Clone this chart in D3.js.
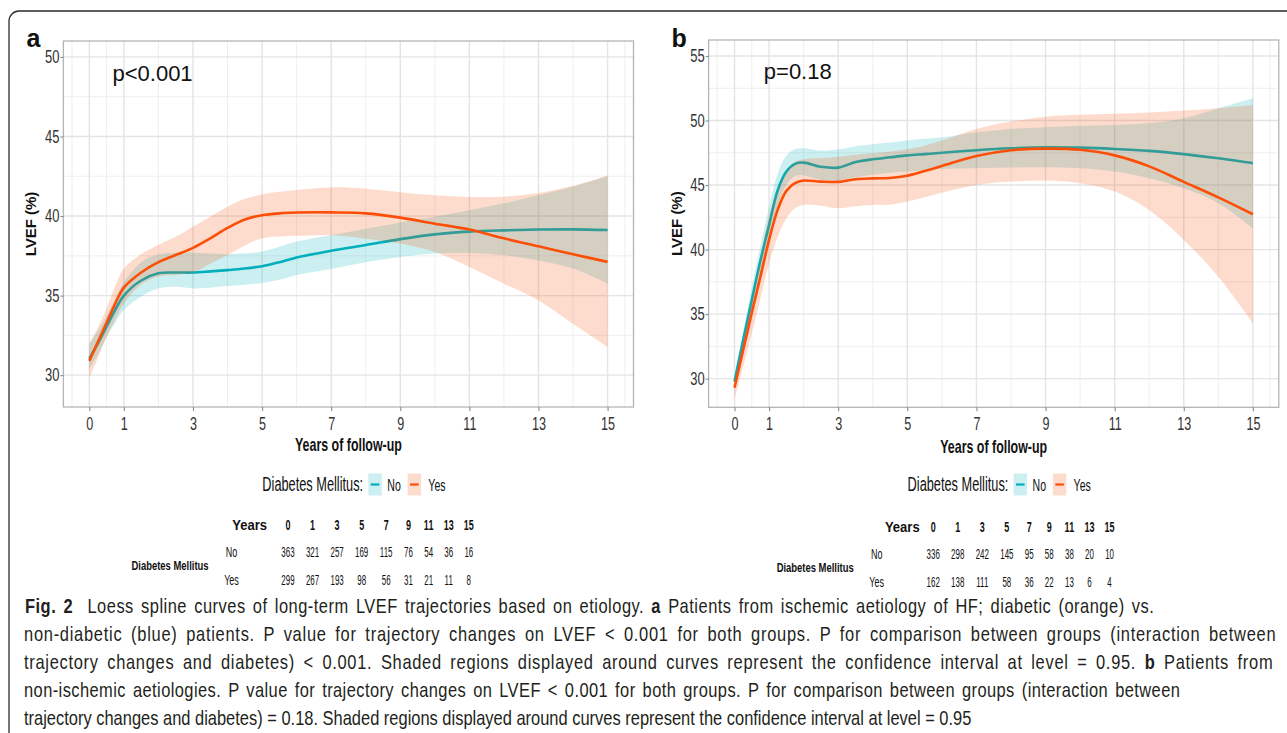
<!DOCTYPE html>
<html>
<head>
<meta charset="utf-8">
<script src="https://cdn.jsdelivr.net/npm/d3@7"></script>
<style>
  html, body { margin: 0; padding: 0; background: #ffffff; }
  svg { display: block; }
</style>
</head>
<body>
<svg id="chart" width="1287" height="733"></svg>
<script>
// ---------------- DATA ----------------
const groups = ["No", "Yes"];
const groupColors = ["#00AFBB", "#FC4E07"];

// Panel a : ischemic aetiology (loess fit and 95% CI)
const yearsA = [0,0.25,0.5,0.75,1,1.5,2,2.5,3,3.5,4,4.5,5,5.5,6,7,8,9,10,11,12,13,14,15];
const aNoFit = [31.05,32.0,33.05,34.1,35.0,35.95,36.4,36.45,36.45,36.52,36.6,36.7,36.85,37.1,37.4,37.82,38.18,38.55,38.85,39.02,39.1,39.15,39.16,39.12];
const aNoLo  = [30.4,31.3,32.4,33.3,34.1,34.95,35.45,35.55,35.45,35.5,35.6,35.68,35.8,36.0,36.3,36.68,37.1,37.43,37.64,37.68,37.53,37.2,36.7,35.75];
const aNoHi  = [31.95,32.8,33.7,34.8,35.85,37.1,37.6,37.7,37.7,37.65,37.62,37.66,37.77,38.07,38.4,38.8,39.2,39.6,39.95,40.36,40.8,41.3,41.85,42.5];
const aYesFit = [30.9,32.1,33.3,34.5,35.5,36.45,37.1,37.55,38.0,38.6,39.25,39.78,40.05,40.17,40.22,40.23,40.17,39.9,39.52,39.15,38.6,38.1,37.6,37.12];
const aYesLo  = [29.8,31.1,32.4,33.5,34.5,35.7,36.2,36.3,36.45,37.0,37.55,38.15,38.6,38.72,38.76,38.79,38.58,38.27,37.74,36.8,35.75,34.7,33.23,31.77];
const aYesHi  = [32.0,33.0,34.2,35.6,36.7,37.6,38.2,38.7,39.33,39.96,40.59,41.08,41.36,41.52,41.64,41.8,41.72,41.5,41.3,41.2,41.22,41.45,41.9,42.55];

// Panel b : non-ischemic aetiologies
const yearsB = [0,0.25,0.5,0.75,1,1.25,1.5,1.75,2,2.5,3,3.5,4,4.5,5,5.5,6,7,8,9,10,11,12,13,14,15];
const bNoFit = [29.77,33.0,36.1,39.15,41.9,44.6,46.05,46.64,46.74,46.42,46.35,46.78,47.0,47.15,47.3,47.4,47.5,47.7,47.85,47.93,47.9,47.8,47.65,47.4,47.08,46.7];
const bNoLo  = [29.4,32.4,35.3,38.1,40.75,43.4,45.0,45.7,45.75,45.4,45.35,45.6,45.8,45.95,46.05,46.15,46.25,46.3,46.36,46.38,46.3,46.05,45.53,44.75,43.6,41.65];
const bNoHi  = [30.15,33.6,37.1,40.3,43.3,45.9,47.3,47.78,47.86,47.67,47.75,48.0,48.17,48.3,48.45,48.58,48.7,49.1,49.35,49.48,49.6,49.66,49.8,50.18,50.96,51.73];
const bYesFit = [29.3,32.2,35.1,37.9,40.75,43.1,44.55,45.15,45.35,45.27,45.25,45.45,45.52,45.55,45.72,46.08,46.48,47.25,47.7,47.82,47.73,47.3,46.45,45.25,44.05,42.74];
const bYesLo  = [28.35,30.9,33.5,36.2,38.94,41.0,42.4,43.2,43.46,43.4,43.2,43.35,43.46,43.48,43.72,44.05,44.4,45.0,45.27,45.35,45.14,44.5,43.07,40.75,37.9,34.3];
const bYesHi  = [29.9,33.0,36.2,39.4,42.56,44.6,46.0,46.8,47.0,47.1,47.2,47.35,47.47,47.6,47.78,48.05,48.45,49.35,49.92,50.3,50.44,50.52,50.62,50.78,50.96,51.2];

// axes
const xTicks = [0,1,3,5,7,9,11,13,15];
const xMinor = [-0.5,0.5,2,4,6,8,10,12,14,15.5];
const yTicksA = [30,35,40,45,50];
const yMinorA = [32.5,37.5,42.5,47.5];
const yTicksB = [30,35,40,45,50,55];
const yMinorB = [32.5,37.5,42.5,47.5,52.5];

// number at risk tables
const tableYears = [0,1,3,5,7,9,11,13,15];
const riskANo  = [363,321,257,169,115,76,54,36,16];
const riskAYes = [299,267,193,98,56,31,21,11,8];
const riskBNo  = [336,298,242,145,95,58,38,20,10];
const riskBYes = [162,138,111,58,36,22,13,6,4];

const panelLetters = ["a", "b"];
const pLabels = ["p<0.001", "p=0.18"];
const xTitle = "Years of follow-up";
const yTitle = "LVEF (%)";
const legendTitle = "Diabetes Mellitus:";
const tableTitle = "Diabetes Mellitus";

const captionLines = [
  [["Fig. 2", true], ["  Loess spline curves of long-term LVEF trajectories based on etiology. ", false], ["a", true], [" Patients from ischemic aetiology of HF; diabetic (orange) vs.", false]],
  [["non-diabetic (blue) patients. P value for trajectory changes on LVEF < 0.001 for both groups. P for comparison between groups (interaction between", false]],
  [["trajectory changes and diabetes) < 0.001. Shaded regions displayed around curves represent the confidence interval at level = 0.95. ", false], ["b", true], [" Patients from", false]],
  [["non-ischemic aetiologies. P value for trajectory changes on LVEF < 0.001 for both groups. P for comparison between groups (interaction between", false]],
  [["trajectory changes and diabetes) = 0.18. Shaded regions displayed around curves represent the confidence interval at level = 0.95", false]]
];

// ---------------- LAYOUT ----------------
const FONT = "'Liberation Sans', Arial, Helvetica, sans-serif";
const svg = d3.select("#chart");
const xDomain = [-0.75, 15.75];

const panels = [
  { x0: 63.4, x1: 633.5, y0: 41, y1: 407, yDomain: [28.0, 51.0], yTicks: yTicksA, yMinor: yMinorA,
    years: yearsA, fits: [aNoFit, aYesFit], los: [aNoLo, aYesLo], his: [aNoHi, aYesHi],
    pY: 49.0, risk: [riskANo, riskAYes], tableTop: 530, yearsGap: 21, xTitleBase: 451 },
  { x0: 708.6, x1: 1278.8, y0: 40, y1: 407.3, yDomain: [27.78, 56.24], yTicks: yTicksB, yMinor: yMinorB,
    years: yearsB, fits: [bNoFit, bYesFit], los: [bNoLo, bYesLo], his: [bNoHi, bYesHi],
    pY: 53.8, risk: [riskBNo, riskBYes], tableTop: 532, yearsGap: 13.5, xTitleBase: 453 }
];

function txt(g, x, y, str, o = {}) {
  let tr = `translate(${x},${y})`;
  if (o.rot) tr += ` rotate(${o.rot})`;
  tr += ` scale(${o.sx || 1},${o.sy || 1})`;
  return g.append("text")
    .attr("transform", tr)
    .attr("font-family", o.family || FONT)
    .attr("font-size", o.size || 14)
    .attr("font-weight", o.weight || "normal")
    .attr("text-anchor", o.anchor || "start")
    .attr("fill", o.fill || "#1a1a1a")
    .text(str);
}

// outer frame of the figure
svg.append("path")
  .attr("d", "M9,733 V21 A10,10 0 0 1 19,11 H1287")
  .attr("fill", "none").attr("stroke", "#2b2b2b").attr("stroke-width", 1.3);

panels.forEach((p, pi) => {
  const g = svg.append("g");
  const x = d3.scaleLinear().domain(xDomain).range([p.x0, p.x1]);
  const y = d3.scaleLinear().domain(p.yDomain).range([p.y1, p.y0]);

  // grid
  g.selectAll(".vmin").data(xMinor).join("line")
    .attr("x1", d => x(d)).attr("x2", d => x(d)).attr("y1", p.y0).attr("y2", p.y1)
    .attr("stroke", "#ededed").attr("stroke-width", 0.9);
  g.selectAll(".hmin").data(p.yMinor).join("line")
    .attr("y1", d => y(d)).attr("y2", d => y(d)).attr("x1", p.x0).attr("x2", p.x1)
    .attr("stroke", "#ededed").attr("stroke-width", 0.9);
  g.selectAll(".vmaj").data(xTicks).join("line")
    .attr("x1", d => x(d)).attr("x2", d => x(d)).attr("y1", p.y0).attr("y2", p.y1)
    .attr("stroke", "#e4e4e4").attr("stroke-width", 1.4);
  g.selectAll(".hmaj").data(p.yTicks).join("line")
    .attr("y1", d => y(d)).attr("y2", d => y(d)).attr("x1", p.x0).attr("x2", p.x1)
    .attr("stroke", "#e4e4e4").attr("stroke-width", 1.4);

  // ribbons and curves
  const curve = d3.curveCatmullRom.alpha(0.5);
  groups.forEach((grp, gi) => {
    const rows = p.years.map((yr, i) => ({ yr, fit: p.fits[gi][i], lo: p.los[gi][i], hi: p.his[gi][i] }));
    const area = d3.area().x(d => x(d.yr)).y0(d => y(d.lo)).y1(d => y(d.hi)).curve(curve);
    const line = d3.line().x(d => x(d.yr)).y(d => y(d.fit)).curve(curve);
    g.append("path").datum(rows).attr("d", area)
      .attr("fill", groupColors[gi]).attr("fill-opacity", 0.2).attr("stroke", "none");
    g.append("path").datum(rows).attr("d", line)
      .attr("fill", "none").attr("stroke", groupColors[gi]).attr("stroke-width", 2.6)
      .attr("stroke-linejoin", "round");
  });

  // panel border
  g.append("rect").attr("x", p.x0).attr("y", p.y0).attr("width", p.x1 - p.x0).attr("height", p.y1 - p.y0)
    .attr("fill", "none").attr("stroke", "#b5b5b5").attr("stroke-width", 1.3);

  // axes
  const gx = g.append("g").attr("transform", `translate(0,${p.y1})`)
    .call(d3.axisBottom(x).tickValues(xTicks).tickSize(4).tickPadding(6).tickFormat(d3.format("d")));
  gx.select(".domain").remove();
  gx.selectAll(".tick line").attr("stroke", "#8a8a8a").attr("stroke-width", 1.1);
  gx.selectAll(".tick text").attr("font-family", FONT).attr("font-size", 18).attr("fill", "#333")
    .attr("transform", "scale(0.7,1)");

  const gy = g.append("g").attr("transform", `translate(${p.x0},0)`)
    .call(d3.axisLeft(y).tickValues(p.yTicks).tickSize(3).tickFormat(d3.format("d")));
  gy.select(".domain").remove();
  gy.selectAll(".tick line").attr("stroke", "#8a8a8a").attr("stroke-width", 1.1);
  gy.selectAll(".tick text").attr("font-family", FONT).attr("font-size", 18).attr("fill", "#333")
    .attr("x", 0).attr("transform", "translate(-4,0) scale(0.72,1)");

  const cx = (p.x0 + p.x1) / 2;
  const cy = (p.y0 + p.y1) / 2;
  // axis titles
  txt(g, cx, p.xTitleBase, xTitle, { size: 18, weight: "bold", sx: 0.69, anchor: "middle", fill: "#111" });
  txt(g, p.x0 - 27, cy, yTitle, { size: 15, weight: "bold", rot: -90, anchor: "middle", fill: "#111" });

  // panel letter and p-value
  txt(svg, p.x0 - 37, 47, panelLetters[pi], { size: 25, weight: "bold", fill: "#111" });
  g.append("text").attr("x", x(1.83)).attr("y", y(p.pY)).attr("dy", "0.36em")
    .attr("font-family", FONT).attr("font-size", 22).attr("text-anchor", "middle").attr("fill", "#111")
    .text(pLabels[pi]);

  // legend
  const lx = cx - 86.1, lb = 491;
  txt(g, lx, lb, legendTitle, { size: 19.5, sx: 0.655, fill: "#111" });
  const keyOff = [106, 145.3], labOff = [125, 166];
  groups.forEach((grp, gi) => {
    g.append("rect").attr("x", lx + keyOff[gi]).attr("y", 473.5).attr("width", 13.4).attr("height", 22)
      .attr("fill", groupColors[gi]).attr("fill-opacity", 0.2);
    g.append("line").attr("x1", lx + keyOff[gi] + 2.4).attr("x2", lx + keyOff[gi] + 11).attr("y1", 484.5).attr("y2", 484.5)
      .attr("stroke", groupColors[gi]).attr("stroke-width", 2.2);
    txt(g, lx + labOff[gi], lb, grp, { size: 16, sx: 0.66, fill: "#111" });
  });

  // number-at-risk table
  const col0 = p.x0 + 224.6;
  const digW = 4.45, gap = 11.2;
  const widths = tableYears.map((_, i) => d3.max(p.risk, r => String(r[i]).length) * digW);
  const colX = [];
  widths.forEach((w, i) => colX.push(i === 0 ? col0 : colX[i - 1] + (widths[i - 1] + w) / 2 + gap));
  const tTop = p.tableTop;
  txt(g, col0 - p.yearsGap, tTop, "Years", { size: 15, weight: "bold", sx: 0.87, anchor: "end", fill: "#111" });
  tableYears.forEach((yr, i) => {
    txt(g, colX[i], tTop, String(yr), { size: 15, weight: "bold", sx: 0.6, anchor: "middle", fill: "#111" });
  });
  groups.forEach((grp, gi) => {
    const rb = tTop + 26.5 + gi * 28;
    txt(g, col0 - 56.5, rb, grp, { size: 15, sx: 0.6, anchor: "middle", fill: "#111" });
    p.risk[gi].forEach((v, i) => {
      txt(g, colX[i], rb, String(v), { size: 15, sx: 0.53, anchor: "middle", fill: "#111" });
    });
  });
  txt(g, col0 - 118, tTop + 39.5, tableTitle, { size: 13.5, weight: "bold", sx: 0.7, anchor: "middle", fill: "#111" });
});

// caption: one glyph scale for all lines; justified lines spread by letter and word spacing
const capStart = [25, 24, 24, 24, 24];
const capEnd = [1155, 1277, 1274, 1181, 972];
const capBase = [613, 641, 669, 697, 725];
const capTexts = captionLines.map((segs) => {
  const t = svg.append("text")
    .attr("font-family", FONT).attr("font-size", 20.5).attr("fill", "#231f20")
    .attr("xml:space", "preserve").style("white-space", "pre");
  segs.forEach(([s, b]) => t.append("tspan").attr("font-weight", b ? "bold" : "normal").text(s));
  return t;
});
const natural = capTexts.map(t => t.node().getComputedTextLength());
const last = captionLines.length - 1;
const capSx = (capEnd[last] - capStart[last]) / natural[last];
capTexts.forEach((t, li) => {
  const str = captionLines[li].map(s => s[0]).join("");
  const nSp = (str.match(/ /g) || []).length;
  const extra = (capEnd[li] - capStart[li]) / capSx - natural[li];
  t.attr("letter-spacing", (0.6 * extra) / str.length);
  t.attr("word-spacing", (0.4 * extra) / nSp);
  t.attr("transform", `translate(${capStart[li]},${capBase[li]}) scale(${capSx},1)`);
});
</script>
</body>
</html>
